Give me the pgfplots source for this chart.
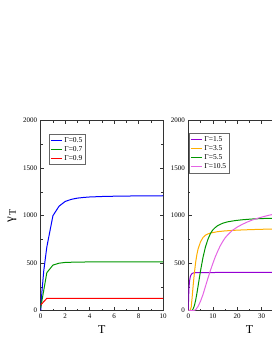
\documentclass[border=0pt]{standalone}
\usepackage{fontspec}
\setmainfont{Liberation Serif}
\usepackage{pgfplots}
\pgfplotsset{compat=1.18}
\definecolor{cblue}{RGB}{0,0,255}
\definecolor{cgreen}{RGB}{0,150,0}
\definecolor{cred}{RGB}{255,0,0}
\definecolor{cviolet}{RGB}{148,0,211}
\definecolor{corange}{RGB}{255,175,0}
\definecolor{cmag}{RGB}{228,100,228}
\pgfplotsset{
  myax/.style={
    scale only axis, width=122.3pt, height=190pt,
    ymin=0, ymax=2000, ytick={0,500,1000,1500,2000},
    minor y tick num=1, minor x tick num=1,
    tick align=inside,
    major tick length=3.5pt, minor tick length=2pt,
    axis line style={black!80, line width=0.6pt},
    every tick/.style={black!80, line width=0.5pt},
    /pgf/number format/1000 sep={},
    /pgf/number format/assume math mode=true,
    tick label style={font=\fontsize{7}{8}\selectfont},
    label style={font=\fontsize{12}{13}\selectfont},
    xlabel={T},
    legend style={draw=black!60, font=\fontsize{7.5}{8}\selectfont, inner sep=1pt,
      row sep=-1.5pt, cells={anchor=west}, anchor=north west},
    legend image code/.code={\draw[#1, line width=1.2pt] (0pt,0pt) -- (11pt,0pt);},
    every axis plot/.append style={line width=1pt, mark=none},
  }
}
\begin{document}
\begin{tikzpicture}
\begin{axis}[myax, at={(40.7pt,41.3pt)}, anchor=south west,
  xmin=0, xmax=10, xtick={0,2,4,6,8,10},
  ylabel={\fontsize{13}{14}\selectfont γ\raisebox{-0.4ex}{\fontsize{10}{10}\selectfont\,T}},
  legend style={at={(0.068,0.93)}}]
\addplot[cblue] coordinates {(0,0) (0.1,200) (0.25,420) (0.5,670) (1,1000) (1.5,1100) (2,1150) (2.5,1172) (3,1185) (3.5,1192) (4,1197) (5,1202) (6,1205) (7,1207) (8,1208) (9,1209) (10,1210)};
\addplot[cgreen] coordinates {(0,30) (0.5,400) (1,480) (1.5,500) (2,508) (3,512) (5,514) (10,515)};
\addplot[cred] coordinates {(0,60) (0.5,130) (10,130)};
\legend{Γ=0.5, Γ=0.7, Γ=0.9}
\end{axis}
\begin{axis}[myax, at={(188.3pt,41.3pt)}, anchor=south west,
  xmin=0, xmax=50, xtick={0,10,20,30,40,50},
  legend style={at={(0.006,0.934)}}]
\addplot[cviolet] coordinates {(0,0) (0.1,120) (0.25,230) (0.5,310) (0.75,350) (1,372) (1.5,390) (2,397) (3,400) (5,401) (10,402) (20,403) (50,405)};
\addplot[corange] coordinates {(0,0) (0.8,5) (1.2,40) (1.6,150) (2,270) (2.5,400) (3,510) (3.5,590) (4,650) (5,725) (6,770) (7,795) (8,808) (9,817) (10,822) (12,832) (15,840) (20,848) (25,853) (30,857) (35,860) (50,862)};
\addplot[cgreen] coordinates {(0,0) (1.5,2) (2,20) (2.5,55) (3,110) (3.5,180) (4,260) (4.5,340) (5,420) (5.5,490) (6,560) (7,670) (8,750) (9,810) (10,850) (11,875) (12,895) (14,920) (16,935) (19,948) (22,957) (26,965) (30,970) (35,973) (50,978)};
\addplot[cmag] coordinates {(0,0) (2,0) (3,10) (4,45) (5,100) (6,170) (7,255) (8,340) (9,420) (10,495) (11,565) (12,625) (13,680) (14,725) (15,765) (16,795) (18,845) (20,880) (22,908) (24,932) (26,953) (28,970) (30,985) (33,1005) (36,1020) (40,1035) (45,1048) (50,1057)};
\legend{Γ=1.5, Γ=3.5, Γ=5.5, Γ=10.5}
\end{axis}
\pgfresetboundingbox
\path[use as bounding box] (0,0) rectangle (272pt,352pt);
\end{tikzpicture}
\end{document}
